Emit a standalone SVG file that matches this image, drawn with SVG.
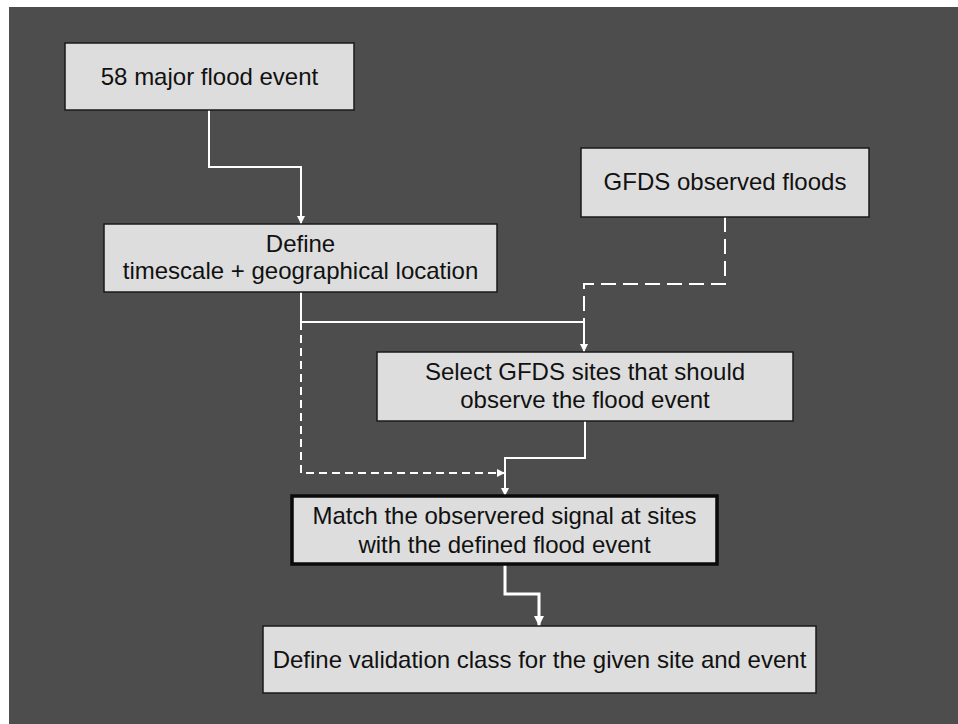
<svg xmlns="http://www.w3.org/2000/svg" width="958" height="724" viewBox="0 0 958 724">
<style>
.box{fill:#dddddd;stroke:#1a1a1a;stroke-width:1.5}
.box-strong{fill:#dddddd;stroke:#0a0a0a;stroke-width:3.5}
.lbl{font-family:"Liberation Sans",Arial,sans-serif;font-size:24px;fill:#111111;text-anchor:middle}
.c{fill:none;stroke:#ffffff;stroke-width:2}
.c-thick{fill:none;stroke:#ffffff;stroke-width:3}
.d1{fill:none;stroke:#ffffff;stroke-width:2;stroke-dasharray:15 7}
.d2{fill:none;stroke:#ffffff;stroke-width:2;stroke-dasharray:8 5}
</style>
<defs>
<marker id="ah" markerUnits="userSpaceOnUse" markerWidth="10" markerHeight="10" viewBox="0 0 10 10" refX="9" refY="5" orient="auto">
<path d="M1,1 L9,5 L1,9 z" fill="#ffffff"/>
</marker>
<marker id="ahb" markerUnits="userSpaceOnUse" markerWidth="12" markerHeight="12" viewBox="0 0 12 12" refX="11" refY="6" orient="auto">
<path d="M1,1 L11,6 L1,11 z" fill="#ffffff"/>
</marker>
</defs>
<rect x="0" y="0" width="958" height="724" fill="#ffffff"/>
<rect x="9" y="7" width="949" height="717" fill="#4d4d4d"/>
<g id="connectors">
<path class="c" d="M209,110 V167 H301 V224" marker-end="url(#ah)"/>
<path class="d1" d="M725,217 V284 H584 V330"/>
<path class="c" d="M301,292 V322 H584 V352" marker-end="url(#ah)"/>
<path class="d2" d="M301,322 V473 H505" marker-end="url(#ah)"/>
<path class="c" d="M585,421 V458 H505 V496" marker-end="url(#ah)"/>
<path class="c-thick" d="M505,564 V594 H539 V626" marker-end="url(#ahb)"/>
</g>
<g id="n1">
<rect class="box" x="65" y="43" width="289" height="67"/>
<text class="lbl" x="209.5" y="85">58 major flood event</text>
</g>
<g id="n2">
<rect class="box" x="104" y="224" width="393" height="68"/>
<text class="lbl" x="300.5" y="252">Define</text>
<text class="lbl" x="300.5" y="279">timescale + geographical location</text>
</g>
<g id="n3">
<rect class="box" x="581" y="148" width="288" height="69"/>
<text class="lbl" x="725" y="190">GFDS observed floods</text>
</g>
<g id="n4">
<rect class="box" x="377" y="352" width="416" height="69"/>
<text class="lbl" x="585" y="380">Select GFDS sites that should</text>
<text class="lbl" x="585" y="408">observe the flood event</text>
</g>
<g id="n5">
<rect class="box-strong" x="292" y="496" width="425" height="68"/>
<text class="lbl" x="504.5" y="524">Match the observered signal at sites</text>
<text class="lbl" x="504.5" y="553">with the defined flood event</text>
</g>
<g id="n6">
<rect class="box" x="263" y="626" width="553" height="67"/>
<text class="lbl" x="539.5" y="668">Define validation class for the given site and event</text>
</g>
</svg>
